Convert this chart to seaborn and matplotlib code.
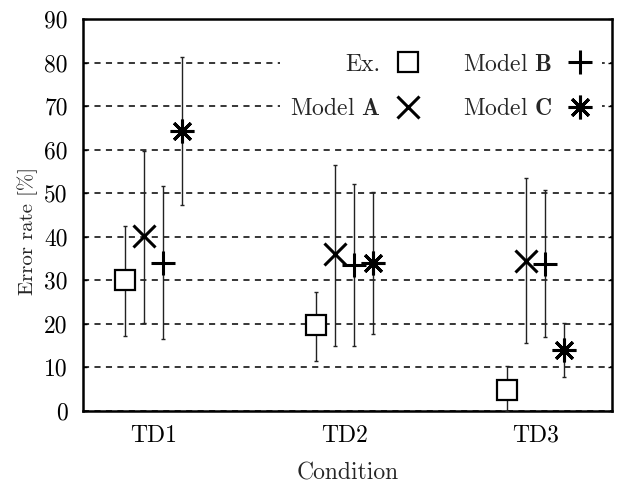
import matplotlib
matplotlib.use("Agg")
import matplotlib.pyplot as plt
from matplotlib.lines import Line2D
import seaborn as sns
import numpy as np
import pandas as pd

conditions = ["TD1", "TD2", "TD3"]
series = ["Ex.", "Model A", "Model B", "Model C"]
legend_labels = ["Ex.", r"Model $\mathbf{A}$", r"Model $\mathbf{B}$", r"Model $\mathbf{C}$"]

ex_mean = [30.0, 19.8, 4.9]
ex_low = [17.3, 11.4, 0.0]
ex_high = [42.4, 27.4, 10.2]

a_mean = [40.2, 36.0, 34.4]
a_low = [20.1, 15.0, 15.7]
a_high = [59.6, 56.4, 53.4]

b_mean = [34.0, 33.5, 33.8]
b_low = [16.5, 15.0, 16.9]
b_high = [51.6, 52.0, 50.7]

c_mean = [64.3, 34.0, 14.1]
c_low = [47.3, 17.7, 7.7]
c_high = [81.3, 50.3, 20.3]

offsets = [-0.15, -0.05, 0.05, 0.15]
yticks = [0, 10, 20, 30, 40, 50, 60, 70, 80, 90]

sns.set_theme(style="ticks")
plt.rcParams["font.family"] = ["cmr10", "DejaVu Serif"]
plt.rcParams["mathtext.fontset"] = "cm"
plt.rcParams["axes.formatter.use_mathtext"] = True

fig = plt.figure(figsize=(6.21, 4.88), dpi=100)
ax = fig.add_axes([0.1337, 0.158, 0.852, 0.803])

rows = []
for s, m, lo, hi in zip(series, [ex_mean, a_mean, b_mean, c_mean],
                        [ex_low, a_low, b_low, c_low],
                        [ex_high, a_high, b_high, c_high]):
    for i, c in enumerate(conditions):
        rows.append(dict(series=s, cond=c, idx=i, mean=m[i], low=lo[i], high=hi[i]))
df = pd.DataFrame(rows)

styles = {
    "Ex.": dict(marker="s", mfc="white", mew=1.6, ms=15),
    "Model A": dict(marker="x", mfc="none", mew=2.2, ms=16),
    "Model B": dict(marker="+", mfc="none", mew=2.2, ms=17),
    "Model C": dict(marker=(8, 2, 0), mfc="none", mew=2.2, ms=17),
}

for k, s in enumerate(series):
    d = df[df.series == s]
    x = d.idx.values + offsets[k]
    ax.errorbar(x, d["mean"].values,
                yerr=[d["mean"].values - d.low.values, d.high.values - d["mean"].values],
                fmt="none", ecolor="#222222", elinewidth=1.0, capsize=1.5,
                capthick=1.0, zorder=3)
    st = styles[s]
    sns.lineplot(x=x, y=d["mean"].values, ax=ax, linestyle="none",
                 marker=st["marker"], markersize=st["ms"],
                 markerfacecolor=st["mfc"], markeredgecolor="black",
                 markeredgewidth=st["mew"], color="black", zorder=4,
                 legend=False)

ax.set_xlim(-0.37, 2.40)
ax.set_ylim(0, 90)
ax.set_xticks(range(len(conditions)))
ax.set_xticklabels(conditions)
ax.set_yticks(yticks)
ax.set_yticklabels([str(t) for t in yticks])

for t in yticks:
    ax.axhline(t, color="black", lw=1.1, ls=(0, (4, 3.5)), zorder=1)

for sp in ax.spines.values():
    sp.set_visible(True)
    sp.set_linewidth(1.8)
    sp.set_color("black")

ax.tick_params(axis="y", direction="in", length=3, width=1, left=True, right=True,
               labelsize=17, pad=11, colors="black")
ax.tick_params(axis="x", direction="in", length=0, labelsize=17, pad=10, colors="black")

ax.set_xlabel("Condition", fontsize=17, labelpad=11)
ax.set_ylabel("Error rate [%]", fontsize=15)
ax.yaxis.set_label_coords(-0.085, 0.459)

handles = []
for s in series:
    st = styles[s]
    handles.append(Line2D([], [], linestyle="none", marker=st["marker"],
                          markersize=st["ms"], markerfacecolor=st["mfc"],
                          markeredgecolor="black", markeredgewidth=st["mew"]))
leg = ax.legend(handles, legend_labels, ncol=2, loc="upper right",
                markerfirst=False, fontsize=17, frameon=True, framealpha=1,
                facecolor="white", edgecolor="white", handlelength=1.0,
                handletextpad=0.7, columnspacing=1.8, labelspacing=0.95,
                borderpad=0.4, borderaxespad=0.0, bbox_to_anchor=(0.98, 0.936))
leg.get_frame().set_linewidth(0)
leg.set_zorder(5)

fig.savefig("out.png", dpi=100)
